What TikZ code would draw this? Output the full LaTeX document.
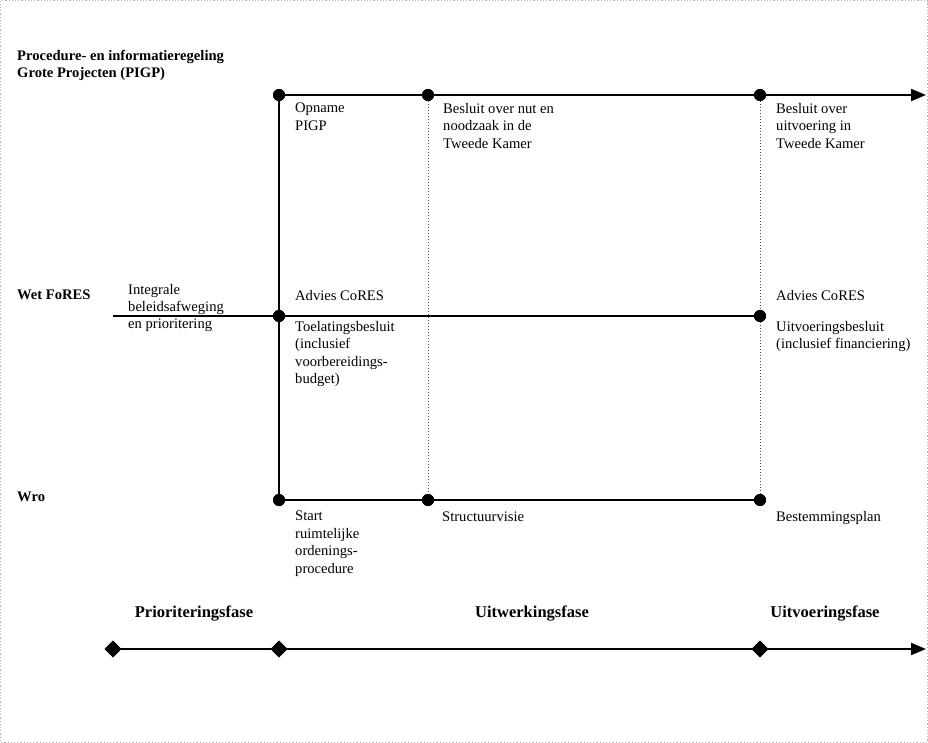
\documentclass[tikz,border=0pt]{standalone}
\usepackage{fontspec}
\setmainfont{Liberation Serif}
\usetikzlibrary{arrows.meta,shapes.geometric}
\begin{document}
\begin{tikzpicture}[x=1pt,y=-1pt,
  lbl/.style={inner sep=0pt, align=left, font=\fontsize{14.6}{17.4}\selectfont},
  head/.style={inner sep=0pt, align=left, font=\fontsize{14.6}{17.4}\selectfont\bfseries},
  phase/.style={inner sep=0pt, font=\fontsize{16.5}{20}\selectfont\bfseries},
  dot/.style={circle, fill=black, inner sep=0pt, minimum size=12pt},
  dia/.style={diamond, fill=black, inner sep=0pt, minimum size=17pt},
  mainline/.style={line width=2pt},
  guide/.style={line width=1pt, black!70, dotted},
  arr/.style={-{Triangle[length=15pt,width=12pt]}}]
\path[use as bounding box] (0,0) rectangle (928,743);
\draw[gray!60, dotted, line width=1.2pt] (0.6,0.6) rectangle (927.4,742.4);

% markers
\node[dot] (t1) at (279,95) {};
\node[dot] (t2) at (428,95) {};
\node[dot] (t3) at (760,95) {};
\node[dot] (m1) at (279,316) {};
\node[dot] (m3) at (760,316) {};
\node[dot] (b1) at (279,500) {};
\node[dot] (b2) at (428,500) {};
\node[dot] (b3) at (760,500) {};
\coordinate (tend) at (926,95);
\coordinate (mstart) at (113,316);
\node[dia] (d1) at (113,649) {};
\node[dia] (d2) at (279,649) {};
\node[dia] (d3) at (760,649) {};
\coordinate (pend) at (926,649);

% dotted guides
\draw[guide] (t2) -- (b2);
\draw[guide] (t3) -- (m3) -- (b3);

% main lines
\draw[mainline, arr] (t1.center) -- (t2.center) -- (t3.center) -- (tend);
\draw[mainline] (mstart) -- (m1.center) -- (m3.center);
\draw[mainline] (b1.center) -- (b2.center) -- (b3.center);
\draw[mainline] (t1.center) -- (m1.center) -- (b1.center);
\draw[mainline, arr] (d1.center) -- (d2.center) -- (d3.center) -- (pend);
\foreach \n in {d1,d2,d3} \node[dia] at (\n) {};
\foreach \n in {t1,t2,t3,m1,m3,b1,b2,b3} \node[dot] at (\n) {};

% row headings
\node[head, anchor=north west] (h1) at (17,50) {Procedure- en informatieregeling\\Grote Projecten (PIGP)};
\node[head, anchor=base west] (h2) at (17,299) {Wet FoRES};
\node[head, anchor=base west] (h3) at (17,501) {Wro};

% top row
\node[lbl, anchor=north west] (l1) at (295,103) {Opname\\PIGP};
\node[lbl, anchor=north west] (l2) at (443,103) {Besluit over nut en\\noodzaak in de\\Tweede Kamer};
\node[lbl, anchor=north west] (l3) at (776,103) {Besluit over\\uitvoering in\\Tweede Kamer};

% middle row
\node[lbl, anchor=north west] (l4) at (128,284) {Integrale\\beleidsafweging};
\node[lbl, anchor=base west] (l5) at (128,328) {en prioritering};
\node[lbl, anchor=base west] (l6) at (295,300) {Advies CoRES};
\node[lbl, anchor=north west] (l7) at (295,321) {Toelatingsbesluit\\(inclusief\\voorbereidings-\\budget)};
\node[lbl, anchor=base west] (l8) at (776,300) {Advies CoRES};
\node[lbl, anchor=north west] (l9) at (776,321) {Uitvoeringsbesluit\\(inclusief financiering)};

% bottom row
\node[lbl, anchor=north west] (l10) at (295,511) {Start\\ruimtelijke\\ordenings-\\procedure};
\node[lbl, anchor=base west] (l11) at (442,521) {Structuurvisie};
\node[lbl, anchor=base west] (l12) at (776,521) {Bestemmingsplan};

% phases
\node[phase, anchor=base] (p1) at (194,617) {Prioriteringsfase};
\node[phase, anchor=base] (p2) at (532,617) {Uitwerkingsfase};
\node[phase, anchor=base] (p3) at (825,617) {Uitvoeringsfase};
\end{tikzpicture}
\end{document}
